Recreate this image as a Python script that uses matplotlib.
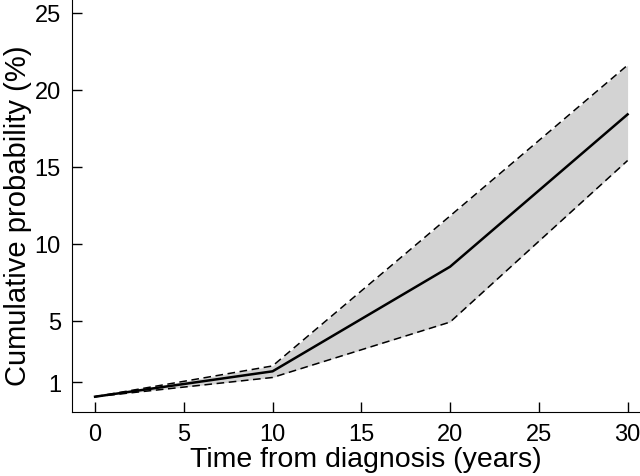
import matplotlib
matplotlib.use('Agg')
import matplotlib.pyplot as plt

plt.rcParams['font.family'] = ['Liberation Sans', 'DejaVu Sans']

years = [0, 10, 20, 30]
estimate = [0.05, 1.7, 8.5, 18.4]
lower = [0.05, 1.3, 4.9, 15.4]
upper = [0.05, 2.05, 11.8, 21.6]

xticks = [0, 5, 10, 15, 20, 25, 30]
yticks = [1, 5, 10, 15, 20, 25]

fig = plt.figure(figsize=(6.4, 4.77), dpi=100)
ax = fig.add_axes([0.1125, 0.134, 0.8875, 0.866])

ax.fill_between(years, lower, upper, color='#d3d3d3', linewidth=0)
ax.plot(years, upper, color='black', linewidth=1.1, linestyle=(0, (5, 3)))
ax.plot(years, lower, color='black', linewidth=1.1, linestyle=(0, (5, 3)))
ax.plot(years, estimate, color='black', linewidth=1.8)

ax.set_xlim(-1.3, 30.7)
ax.set_ylim(-0.95, 25.9)
ax.set_xticks(xticks)
ax.set_yticks(yticks)

ax.spines['top'].set_visible(False)
ax.spines['right'].set_visible(False)
ax.tick_params(direction='in', length=7, width=1, labelsize=17)
ax.tick_params(axis='x', pad=8)
ax.tick_params(axis='y', pad=8)

ax.set_xlabel('Time from diagnosis (years)', fontsize=20.5)
ax.set_ylabel('Cumulative probability (%)', fontsize=21)
ax.xaxis.set_label_coords(0.518, -0.083)
ax.yaxis.set_label_coords(-0.07, 0.477)

fig.savefig('out.png', dpi=100)
